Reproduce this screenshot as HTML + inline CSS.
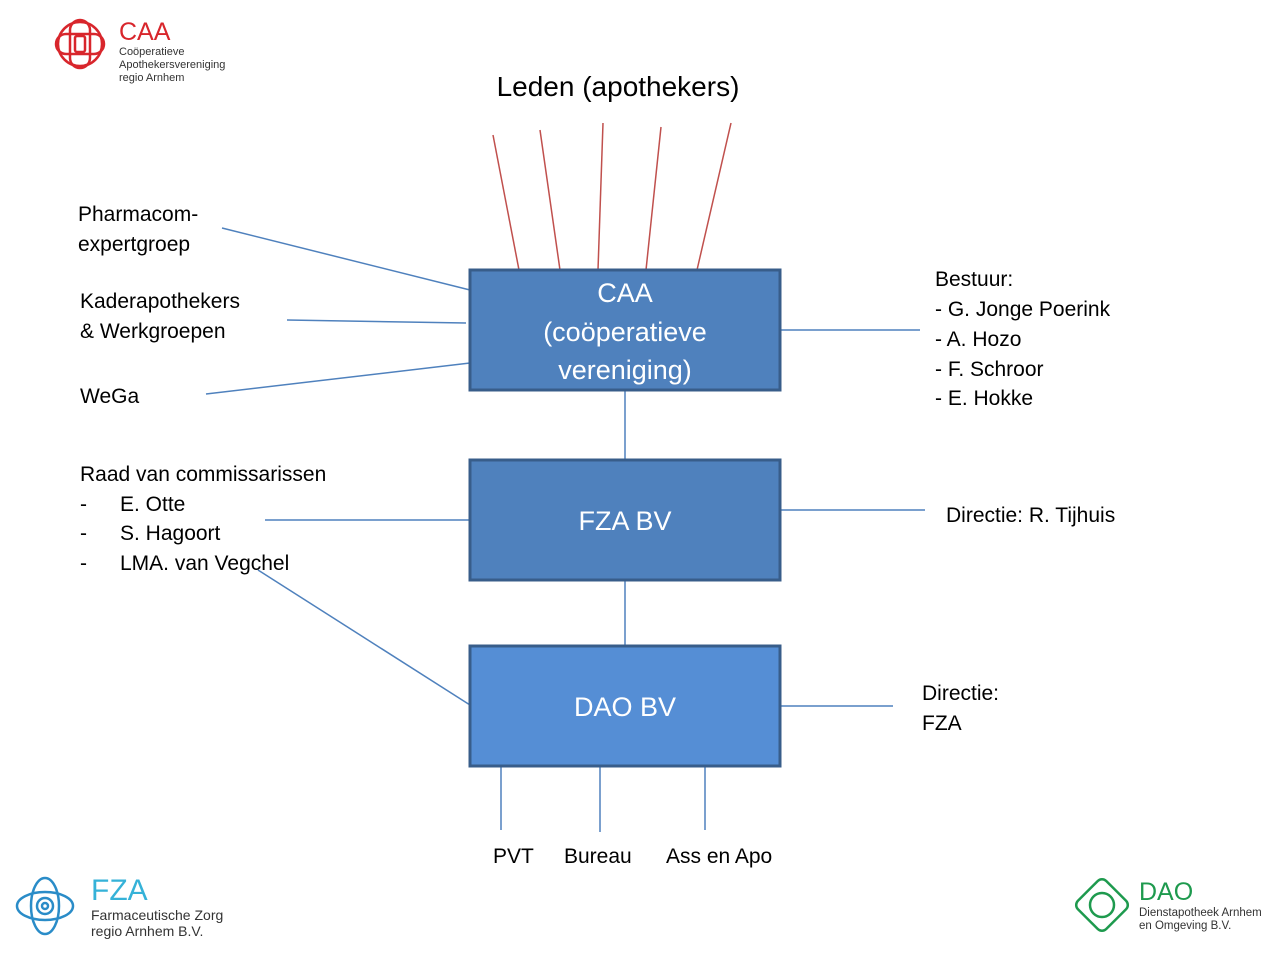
<!DOCTYPE html>
<html><head><meta charset="utf-8"><style>
body{margin:0;background:#fff;}
svg text{font-family:"Liberation Sans",sans-serif;}
</style></head><body>
<svg width="1280" height="960" xmlns="http://www.w3.org/2000/svg">
<!-- CAA logo -->
<g fill="none" stroke="#d8262c" stroke-width="2.5">
<circle cx="80" cy="44" r="22"/>
<rect x="70" y="20" width="20" height="48" rx="10"/>
<rect x="56" y="34" width="48" height="20" rx="10"/>
<rect x="75" y="36" width="10" height="16" rx="2"/>
</g>
<text x="119" y="40" font-size="25" fill="#d8262c">CAA</text>
<text x="119" y="55" font-size="11" fill="#333">Coöperatieve</text>
<text x="119" y="68" font-size="11" fill="#333">Apothekersvereniging</text>
<text x="119" y="81" font-size="11" fill="#333">regio Arnhem</text>
<!-- FZA logo -->
<g fill="none" stroke="#2a8cc8" stroke-width="2.5">
<ellipse cx="45" cy="906" rx="28" ry="14"/>
<ellipse cx="45" cy="906" rx="14" ry="28"/>
<circle cx="45" cy="906" r="8"/>
<circle cx="45" cy="906" r="3"/>
</g>
<text x="91" y="900" font-size="30" fill="#35b2d8">FZA</text>
<text x="91" y="920" font-size="14" fill="#333">Farmaceutische Zorg</text>
<text x="91" y="936" font-size="14" fill="#333">regio Arnhem B.V.</text>
<!-- DAO logo -->
<g fill="none" stroke="#1e9a4e" stroke-width="2.5">
<rect x="1082" y="885" width="40" height="40" rx="6" transform="rotate(45 1102 905)"/>
<circle cx="1102" cy="905" r="12"/>
</g>
<text x="1139" y="900" font-size="25" fill="#1e9a4e">DAO</text>
<text x="1139" y="916" font-size="11.5" fill="#333">Dienstapotheek Arnhem</text>
<text x="1139" y="929" font-size="11.5" fill="#333">en Omgeving B.V.</text>

<text x="618" y="96" font-size="28" text-anchor="middle" fill="#000">Leden (apothekers)</text>
<!-- red lines -->
<g stroke="#c0504d" stroke-width="1.5">
<line x1="493" y1="135" x2="519" y2="270"/>
<line x1="540" y1="130" x2="560" y2="270"/>
<line x1="603" y1="123" x2="598" y2="270"/>
<line x1="661" y1="127" x2="646" y2="270"/>
<line x1="731" y1="123" x2="697" y2="270"/>
</g>
<!-- blue lines -->
<g stroke="#4f81bd" stroke-width="1.5">
<line x1="222" y1="228" x2="470" y2="290"/>
<line x1="287" y1="320" x2="466" y2="323"/>
<line x1="206" y1="394" x2="470" y2="363"/>
<line x1="780" y1="330" x2="920" y2="330"/>
<line x1="625" y1="390" x2="625" y2="460"/>
<line x1="265" y1="520" x2="470" y2="520"/>
<line x1="780" y1="510" x2="925" y2="510"/>
<line x1="625" y1="580" x2="625" y2="645"/>
<line x1="258" y1="570" x2="470" y2="705"/>
<line x1="780" y1="706" x2="893" y2="706"/>
<line x1="501" y1="766" x2="501" y2="830"/>
<line x1="600" y1="766" x2="600" y2="832"/>
<line x1="705" y1="766" x2="705" y2="830"/>
</g>
<!-- boxes -->
<rect x="470" y="270" width="310" height="120" fill="#4f81bd" stroke="#385d8a" stroke-width="3"/>
<rect x="470" y="460" width="310" height="120" fill="#4f81bd" stroke="#385d8a" stroke-width="3"/>
<rect x="470" y="646" width="310" height="120" fill="#558ed5" stroke="#385d8a" stroke-width="3"/>
<g fill="#fff" font-size="27" text-anchor="middle">
<text x="625" y="302">CAA</text>
<text x="625" y="341">(coöperatieve</text>
<text x="625" y="379">vereniging)</text>
<text x="625" y="530">FZA BV</text>
<text x="625" y="716">DAO BV</text>
</g>
<g fill="#000" font-size="21">
<text x="78" y="221">Pharmacom-</text>
<text x="78" y="251">expertgroep</text>
<text x="80" y="308">Kaderapothekers</text>
<text x="80" y="338">&amp; Werkgroepen</text>
<text x="80" y="403">WeGa</text>
<text x="935" y="286">Bestuur:</text>
<text x="935" y="316">- G. Jonge Poerink</text>
<text x="935" y="346">- A. Hozo</text>
<text x="935" y="376">- F. Schroor</text>
<text x="935" y="405">- E. Hokke</text>
<text x="80" y="481">Raad van commissarissen</text>
<text x="80" y="511">-</text><text x="120" y="511">E. Otte</text>
<text x="80" y="540">-</text><text x="120" y="540">S. Hagoort</text>
<text x="80" y="570">-</text><text x="120" y="570">LMA. van Vegchel</text>
<text x="946" y="522">Directie: R. Tijhuis</text>
<text x="922" y="700">Directie:</text>
<text x="922" y="730">FZA</text>
<text x="493" y="863">PVT</text>
<text x="564" y="863">Bureau</text>
<text x="666" y="863">Ass en Apo</text>
</g>
</svg>
</body></html>
